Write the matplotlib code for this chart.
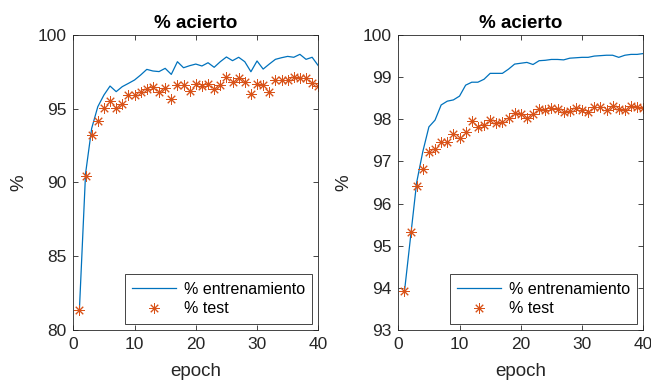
import matplotlib
matplotlib.use("Agg")
import matplotlib.pyplot as plt

epochs = list(range(1, 41))

# panel izquierdo
train_a = [81.4, 90.6, 93.67, 95.14, 95.93, 96.54, 96.16, 96.5, 96.72, 96.95,
           97.29, 97.67, 97.56, 97.52, 97.74, 97.33, 98.19, 97.78, 97.92, 98.03,
           97.9, 98.12, 97.81, 98.19, 98.51, 98.26, 98.49, 98.19, 97.51, 98.24,
           97.69, 98.03, 98.35, 98.46, 98.55, 98.49, 98.69, 98.35, 98.49, 97.92]
test_a = [81.36, 90.46, 93.22, 94.19, 95.03, 95.53, 95.03, 95.34, 95.93, 95.93,
          96.11, 96.32, 96.45, 96.11, 96.43, 95.66, 96.59, 96.59, 96.2, 96.68,
          96.54, 96.68, 96.36, 96.61, 97.13, 96.84, 97.06, 96.84, 95.98, 96.66,
          96.61, 96.16, 96.93, 96.95, 96.93, 97.15, 97.06, 97.06, 96.77, 96.56]

# panel derecho
train_b = [93.9, 95.2, 96.5, 97.23, 97.82, 97.98, 98.34, 98.43, 98.46, 98.55,
           98.81, 98.88, 98.88, 98.95, 99.09, 99.09, 99.09, 99.19, 99.31, 99.33,
           99.35, 99.30, 99.39, 99.40, 99.42, 99.42, 99.41, 99.45, 99.46, 99.47,
           99.47, 99.50, 99.51, 99.52, 99.52, 99.47, 99.52, 99.54, 99.54, 99.56]
test_b = [93.92, 95.33, 96.42, 96.82, 97.22, 97.29, 97.45, 97.47, 97.66, 97.55,
          97.69, 97.96, 97.81, 97.86, 97.98, 97.92, 97.93, 98.02, 98.16, 98.13,
          98.02, 98.12, 98.24, 98.22, 98.26, 98.25, 98.17, 98.19, 98.26, 98.22,
          98.17, 98.28, 98.30, 98.22, 98.32, 98.25, 98.22, 98.32, 98.30, 98.26]

plt.rcParams['font.family'] = ['Liberation Sans', 'DejaVu Sans']
dark = '#262626'

fig = plt.figure(figsize=(6.51, 3.83), dpi=100)
ax1 = fig.add_axes([0.1126, 0.1384, 0.3763, 0.7702])
ax2 = fig.add_axes([0.6118, 0.1384, 0.3763, 0.7702])

panels = [(ax1, train_a, test_a, (80, 100), [80, 85, 90, 95, 100]),
          (ax2, train_b, test_b, (93, 100), [93, 94, 95, 96, 97, 98, 99, 100])]

for ax, train, test, ylim, yticks in panels:
    ax.plot(epochs, train, color='#0072BD', lw=0.9, label='% entrenamiento')
    ax.plot(epochs, test, ls='none', marker=(8, 2, 0), ms=7.5, mew=0.7,
            color='#D95319', label='% test')
    ax.set_xlim(0, 40)
    ax.set_ylim(*ylim)
    ax.set_xticks([0, 10, 20, 30, 40])
    ax.set_yticks(yticks)
    ax.tick_params(direction='in', top=True, right=True, length=3.5,
                   width=0.6, colors=dark, labelsize=12.5, labelcolor=dark, pad=5)
    for s in ax.spines.values():
        s.set_color(dark)
        s.set_linewidth(0.6)
    ax.set_title('% acierto', fontsize=13.5, fontweight='bold', color='black', pad=5)
    ax.set_xlabel('epoch', fontsize=13.5, color=dark, labelpad=8)
    ax.set_ylabel('%', fontsize=13.5, color=dark, labelpad=7)
    leg = ax.legend(loc='lower right', fontsize=11.5, handlelength=2.75,
                    fancybox=False, borderaxespad=0.4, framealpha=1,
                    edgecolor=dark, borderpad=0.45, labelspacing=0.3,
                    handletextpad=0.45)
    leg.get_frame().set_linewidth(0.6)

fig.savefig('out.png', dpi=100)
